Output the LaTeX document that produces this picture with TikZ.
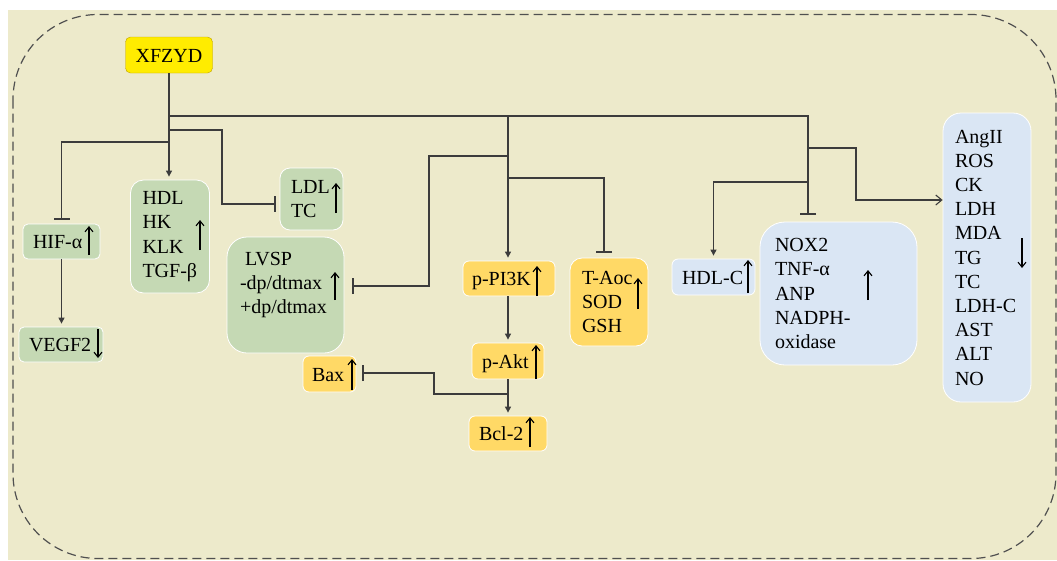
\documentclass[tikz,border=0pt]{standalone}
\usepackage{fontspec}
\setmainfont{Liberation Serif}
\usetikzlibrary{arrows.meta,calc}

\definecolor{bgbeige}{RGB}{237,234,203}
\definecolor{boxgreen}{RGB}{197,217,180}
\definecolor{boxgold}{RGB}{255,217,102}
\definecolor{boxblue}{RGB}{218,230,244}
\definecolor{drugyellow}{RGB}{255,236,0}
\definecolor{drugedge}{RGB}{191,160,0}
\definecolor{linegray}{RGB}{60,60,60}
\definecolor{framegray}{RGB}{80,80,80}

\begin{document}
\begin{tikzpicture}[x=1pt, y=-1pt,
    cell/.style={draw=white, line width=0.8pt, align=left, inner ysep=0pt, font=\fontsize{20}{24.2}\selectfont},
    greencell/.style={cell, fill=boxgreen},
    goldcell/.style={cell, fill=boxgold},
    bluecell/.style={cell, fill=boxblue},
    single/.style={text height=14pt, text depth=0pt},
    act/.style={-{Triangle[length=6pt,width=6pt]}, line width=1.1pt, linegray, shorten >=3pt},
    inh/.style={-{Bar[width=16pt,line width=2pt]}, line width=1.1pt, linegray},
    opn/.style={-{Straight Barb[length=6pt,width=10pt]}, line width=1.1pt, linegray},
    updn/.style={-{Straight Barb[length=5pt,width=8pt]}, line width=1.1pt, black}
]
\useasboundingbox (0,0) rectangle (1057,560);
\fill[bgbeige] (8,10) rectangle (1057,560);
\draw[framegray, line width=1.2pt, dash pattern=on 9pt off 5pt, rounded corners=85pt] (13,14.5) rectangle (1056,558.5);

% drug
\node[draw=drugedge, fill=drugyellow, rounded corners=5pt, minimum width=87pt, minimum height=36pt,
      inner sep=0pt, single, font=\fontsize{20}{24.2}\selectfont] (xf) at (169,55) {XFZYD};

% green group
\node[greencell, single, rounded corners=5pt, text width=57pt, inner xsep=10pt, minimum height=35pt] (hif) at (61.5,241.5) {HIF-α};
\node[greencell, single, rounded corners=5pt, text width=64pt, inner xsep=10pt, minimum height=35pt] (vegf) at (61,344.5) {VEGF2};
\node[greencell, rounded corners=13pt, text width=55pt, inner xsep=12pt, minimum height=113pt] (hdl) at (170,236.5) {HDL\\HK\\KLK\\TGF-β};
\node[greencell, rounded corners=10pt, text width=41pt, inner xsep=11pt, minimum height=62pt] (ldl) at (311.5,199) {LDL\\TC};
\node[greencell, rounded corners=20pt, text width=91pt, inner xsep=13pt, minimum height=116pt] (lvsp) at (285.5,295) {\hspace{5pt}LVSP\\-dp/dtmax\\+dp/dtmax\\\mbox{}};

% gold group
\node[goldcell, single, rounded corners=6pt, text width=74pt, inner xsep=9pt, minimum height=35pt] (pi3k) at (509,278.5) {p-PI3K};
\node[goldcell, rounded corners=12pt, text width=54pt, inner xsep=12pt, minimum height=88pt] (taoc) at (609,302) {T-Aoc\\SOD\\GSH};
\node[goldcell, single, rounded corners=6pt, text width=52pt, inner xsep=10pt, minimum height=36pt] (akt) at (508,361) {p-Akt};
\node[goldcell, single, rounded corners=6pt, text width=58pt, inner xsep=10pt, minimum height=35pt] (bcl) at (508,433.5) {Bcl-2};
\node[goldcell, single, rounded corners=6pt, text width=35pt, inner xsep=9pt, minimum height=36pt] (bax) at (329.5,374) {Bax};

% blue group
\node[bluecell, single, rounded corners=6pt, text width=63pt, inner xsep=10pt, minimum height=36pt] (hdlc) at (713.5,277) {HDL-C};
\node[bluecell, rounded corners=25pt, text width=127pt, inner xsep=15pt, minimum height=143pt] (nox) at (838.5,293.5) {NOX2\\TNF-α\\ANP\\NADPH-\\oxidase};
\node[bluecell, rounded corners=18pt, text width=64pt, inner xsep=12pt, minimum height=289pt] (rbox) at (987,257.5) {AngII\\ROS\\CK\\LDH\\MDA\\TG\\TC\\LDH-C\\AST\\ALT\\NO};

% junctions on the trunk lines
\coordinate (t1) at (169,116);
\coordinate (t2) at (169,130);
\coordinate (t3) at (169,142);
\coordinate (m0) at (508,116);
\coordinate (m1) at (508,156);
\coordinate (m2) at (508,178);
\coordinate (r0) at (808,116);
\coordinate (r1) at (808,148);
\coordinate (r2) at (808,182);
\coordinate (a1) at (508,394);

% connectors
\draw[act] (xf.south) -- (xf.south |- hdl.north);
\draw[inh, shorten >=7pt] (t1) -| (r0 |- nox.north);
\draw[inh, shorten >=4pt] (t3) -| (hif.north);
\draw[act] (hif.south) -- (hif.south |- vegf.north);
\draw[inh, shorten >=4pt] (t2) -| (222,204) -- (ldl.west |- 0,204);
\draw[act] (m0) -- (m0 |- pi3k.north);
\draw[inh, shorten >=8pt] (m1) -| (429,286) -- (lvsp.east |- 0,286);
\draw[inh, shorten >=5pt] (m2) -| ([xshift=-5pt]taoc.north);
\draw[act] (akt.north |- pi3k.south) -- (akt.north);
\draw[act] (akt.south) -- (bcl.north);
\draw[inh, shorten >=6pt] (a1) -| (434,373) -- (bax.east |- 0,373);
\draw[opn] (r1) -| (856,200) -- (rbox.west |- 0,200);
\draw[act] (r2) -| (hdlc.north);

% up / down marks inside the boxes
\foreach \x/\a/\b in {89/255/226, 98/329/358, 200/250/220, 336/213/183, 335/300/272,
                      537/296/266, 638/309/278, 536/379/345, 530/447/417, 352/390/359,
                      748/293/260, 868/300/270, 1022/238/268}
    \draw[updn] (\x,\a) -- (\x,\b);
\end{tikzpicture}
\end{document}
